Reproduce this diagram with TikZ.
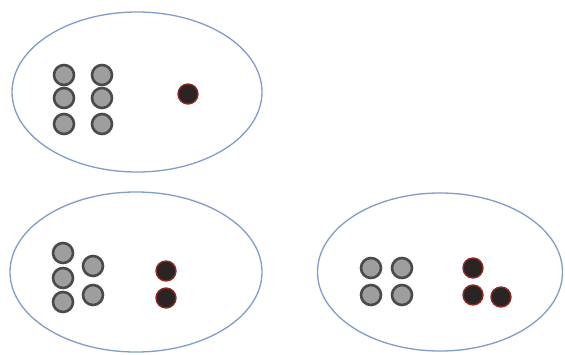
\documentclass[tikz,border=0pt]{standalone}
\usetikzlibrary{shapes.geometric}
\definecolor{ringblue}{HTML}{7F9CCB}
\definecolor{graydot}{HTML}{9E9E9E}
\definecolor{grayedge}{HTML}{4A4A4A}
\definecolor{reddot}{HTML}{2A2424}
\definecolor{rededge}{HTML}{8E2A22}
\begin{document}
\begin{tikzpicture}[x=1pt,y=-1pt,
  setring/.style={ellipse,draw=ringblue,line width=1.3pt,inner sep=0pt},
  gdot/.style={circle,fill=graydot,draw=grayedge,line width=2.6pt,minimum size=20pt,inner sep=0pt},
  rdot/.style={circle,fill=reddot,draw=rededge,line width=1.4pt,minimum size=20pt,inner sep=0pt}]
\useasboundingbox (0,0) rectangle (565,354);
% ellipses
\node[setring,minimum width=250pt,minimum height=160pt] (e1) at (137,92) {};
\node[setring,minimum width=252pt,minimum height=160pt] (e2) at (136,272) {};
\node[setring,minimum width=245pt,minimum height=158pt] (e3) at (440,272) {};
% top set
\node[gdot] (a1) at (64,75) {};
\node[gdot] (a2) at (64,98) {};
\node[gdot] (a3) at (64,124) {};
\node[gdot] (a4) at (102,75) {};
\node[gdot] (a5) at (102,98) {};
\node[gdot] (a6) at (102,124) {};
\node[rdot] (ar) at (188,94) {};
% bottom left set
\node[gdot] (b1) at (63,253) {};
\node[gdot] (b2) at (63,278) {};
\node[gdot] (b3) at (63,302) {};
\node[gdot] (b4) at (93,266) {};
\node[gdot] (b5) at (93,295) {};
\node[rdot] (br1) at (166,271) {};
\node[rdot] (br2) at (166,298) {};
% bottom right set
\node[gdot] (c1) at (371,268) {};
\node[gdot] (c2) at (402,268) {};
\node[gdot] (c3) at (371,295) {};
\node[gdot] (c4) at (402,295) {};
\node[rdot] (cr1) at (473,268) {};
\node[rdot] (cr2) at (473,295) {};
\node[rdot] (cr3) at (501,297) {};
\end{tikzpicture}
\end{document}
